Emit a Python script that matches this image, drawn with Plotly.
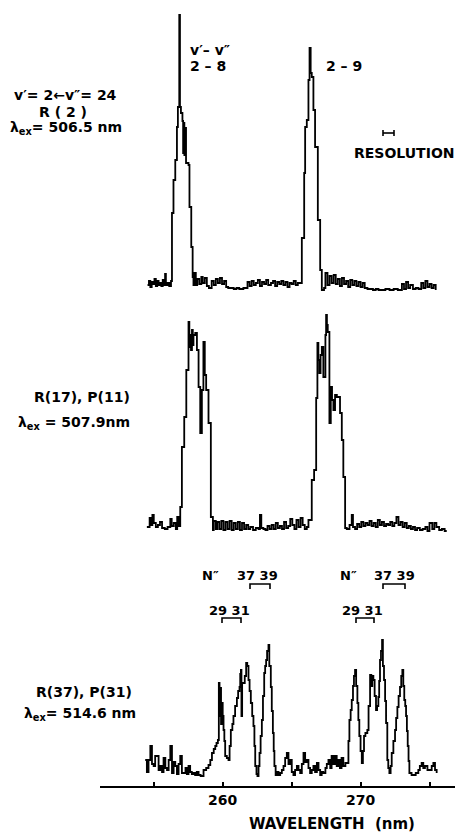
import plotly.graph_objects as go

# ---------------- data (wavelength nm, intensity arb.) ----------------
top_wl = [254.55, 254.65, 254.75, 254.85, 254.95, 255.05, 255.15, 255.25, 255.35, 255.45, 255.55, 255.65,
          255.75, 255.82, 255.88, 256.0, 256.12, 256.25, 256.32, 256.43, 256.56, 256.68, 256.75, 256.85,
          256.90, 256.97, 257.08, 257.13, 257.18, 257.22, 257.27, 257.34, 257.52, 257.59, 257.72, 257.82,
          257.88, 257.95, 258.05, 258.15, 258.3, 258.45, 258.55, 258.7, 258.85, 259.0, 259.2, 259.35,
          259.5, 259.65, 259.8, 259.95, 260.1, 260.25, 260.4, 260.6, 260.8, 261.0, 261.2, 261.5, 261.8,
          261.95, 262.1, 262.25, 262.4, 262.55, 262.7, 262.85, 263.0, 263.15, 263.3, 263.5, 263.65, 263.8,
          263.95, 264.1, 264.25, 264.4, 264.55, 264.7, 264.85, 265.0, 265.15, 265.3, 265.45, 265.74,
          265.91, 265.98, 266.10, 266.22, 266.30, 266.38, 266.46, 266.58, 266.70, 266.90, 267.07, 267.19,
          267.35, 267.45, 267.6, 267.75, 267.9, 268.05, 268.2, 268.35, 268.5, 268.65, 268.8, 268.95,
          269.1, 269.25, 269.4, 269.55, 269.7, 269.85, 270.0, 270.15, 270.3, 270.5, 270.7, 270.9, 271.1,
          271.3, 271.5, 271.8, 272.1, 272.4, 272.7, 273.0, 273.15, 273.3, 273.45, 273.6, 273.8, 274.0,
          274.2, 274.4, 274.55, 274.7, 274.85, 275.0, 275.15, 275.3, 275.45]
top_I = [8, 12, 6, 11, 9, 14, 7, 12, 8, 10, 7, 13,
         8, 19, 8, 10, 7, 12, 80, 113, 133, 166, 186, 278,
         186, 180, 172, 140, 170, 138, 165, 130, 128, 86, 46, 16,
         8, 20, 8, 14, 9, 16, 10, 15, 7, 5, 12, 8,
         14, 10, 15, 9, 12, 6, 5, 5, 4, 5, 4, 5, 11,
         7, 12, 8, 10, 13, 7, 11, 9, 13, 8, 10, 12, 7,
         11, 9, 12, 8, 11, 6, 10, 9, 12, 8, 10, 55,
         120, 166, 173, 213, 245, 220, 216, 183, 146, 73, 23, 3,
         5, 20, 8, 17, 10, 18, 9, 14, 7, 15, 9, 12,
         6, 13, 8, 12, 7, 11, 6, 10, 5, 4, 4, 3, 4,
         3, 3, 4, 3, 4, 3, 9, 4, 11, 5, 8, 4, 5,
         4, 10, 5, 12, 6, 9, 5, 8, 3]

mid_wl = [254.5, 254.7, 254.8, 254.9, 255.0, 255.15, 255.3, 255.45, 255.6, 255.8, 256.0, 256.2, 256.3,
          256.45, 256.6, 256.7, 256.8, 256.92, 257.04, 257.21, 257.36, 257.52, 257.58, 257.64, 257.70,
          257.77, 257.83, 257.88, 258.01, 258.13, 258.25, 258.37, 258.49, 258.60, 258.70, 258.80, 258.97,
          259.14, 259.29, 259.35, 259.5, 259.6, 259.75, 259.9, 260.05, 260.2, 260.35, 260.5, 260.65,
          260.8, 260.95, 261.1, 261.25, 261.4, 261.55, 261.7, 261.85, 262.0, 262.2, 262.4, 262.6, 262.7,
          262.8, 262.95, 263.1, 263.25, 263.4, 263.55, 263.7, 263.85, 264.0, 264.15, 264.3, 264.45, 264.6,
          264.75, 264.9, 265.05, 265.2, 265.35, 265.5, 265.65, 265.8, 265.95, 266.1, 266.22, 266.46,
          266.63, 266.78, 266.87, 266.94, 267.01, 267.10, 267.19, 267.30, 267.45, 267.50, 267.56, 267.62,
          267.74, 267.84, 267.93, 268.03, 268.15, 268.28, 268.51, 268.64, 268.75, 268.88, 269.0, 269.2,
          269.36, 269.45, 269.6, 269.75, 269.9, 270.05, 270.2, 270.35, 270.5, 270.65, 270.8, 270.95,
          271.1, 271.25, 271.4, 271.55, 271.7, 271.85, 272.0, 272.15, 272.3, 272.45, 272.6, 272.75,
          272.9, 273.05, 273.2, 273.35, 273.5, 273.65, 273.8, 273.95, 274.1, 274.3, 274.5, 274.7, 274.85,
          275.0, 275.2, 275.35, 275.5, 275.7, 275.9, 276.1, 276.25]
mid_I = [8, 17, 10, 20, 12, 8, 10, 13, 7, 6, 8, 16, 9,
         12, 6, 18, 9, 28, 88, 118, 165, 213, 188, 200, 185,
         205, 190, 200, 202, 185, 148, 102, 145, 193, 160, 145, 112,
         18, 5, 14, 6, 13, 6, 14, 5, 13, 6, 14, 5,
         12, 6, 13, 5, 12, 6, 10, 6, 8, 5, 7, 6, 20,
         7, 6, 5, 9, 6, 10, 6, 12, 7, 9, 6, 13, 7,
         9, 16, 10, 6, 15, 8, 17, 10, 6, 8, 15, 55,
         65, 137, 192, 175, 162, 180, 188, 158, 200, 220, 210, 203,
         112, 148, 135, 125, 140, 138, 122, 95, 58, 7, 6, 10,
         20, 8, 6, 11, 8, 13, 9, 12, 10, 14, 9, 12,
         8, 15, 10, 13, 9, 11, 10, 13, 9, 12, 18, 10,
         13, 8, 12, 7, 9, 6, 8, 5, 7, 5, 6, 8, 4,
         12, 6, 12, 8, 5, 6, 4, 4]

bot_wl = [254.38, 254.5, 254.62, 254.75, 254.87, 254.99, 255.1, 255.23, 255.35, 255.47, 255.6, 255.71,
          255.84, 255.96, 256.08, 256.2, 256.32, 256.44, 256.56, 256.68, 256.8, 256.92, 257.04, 257.16,
          257.3, 257.4, 257.52, 257.64, 257.76, 257.88, 258.0, 258.12, 258.25, 258.4, 258.61, 258.8,
          258.97, 259.1, 259.22, 259.35, 259.46, 259.55, 259.65, 259.72, 259.77, 259.82, 259.88, 259.94,
          260.0, 260.06, 260.12, 260.18, 260.3, 260.42, 260.5, 260.59, 260.7, 260.78, 260.9, 261.03,
          261.12, 261.22, 261.27, 261.32, 261.36, 261.41, 261.51, 261.6, 261.70, 261.78, 261.87, 261.95,
          262.04, 262.14, 262.23, 262.30, 262.36, 262.45, 262.52, 262.60, 262.67, 262.75, 262.84, 262.92,
          263.01, 263.08, 263.15, 263.22, 263.32, 263.38, 263.49, 263.56, 263.64, 263.70, 263.75, 263.84,
          263.93, 264.05, 264.17, 264.29, 264.41, 264.53, 264.65, 264.77, 264.89, 265.01, 265.13, 265.25,
          265.38, 265.5, 265.62, 265.74, 265.86, 265.98, 266.10, 266.22, 266.34, 266.46, 266.58, 266.70,
          266.83, 266.95, 267.07, 267.18, 267.30, 267.45, 267.55, 267.67, 267.8, 267.9, 268.03, 268.15,
          268.27, 268.39, 268.5, 268.62, 268.75, 268.9, 269.04, 269.12, 269.19, 269.28, 269.36, 269.45,
          269.52, 269.60, 269.68, 269.77, 269.84, 269.91, 270.0, 270.09, 270.17, 270.25, 270.35, 270.49,
          270.58, 270.69, 270.78, 270.85, 270.93, 271.02, 271.12, 271.2, 271.29, 271.35, 271.41, 271.48,
          271.56, 271.62, 271.70, 271.78, 271.85, 271.94, 272.01, 272.09, 272.18, 272.26, 272.38, 272.50,
          272.58, 272.67, 272.76, 272.86, 272.95, 273.03, 273.10, 273.17, 273.24, 273.30, 273.36, 273.42,
          273.48, 273.54, 273.7, 273.83, 274.0, 274.19, 274.3, 274.43, 274.55, 274.67, 274.85, 275.04,
          275.16, 275.28, 275.4, 275.52]
bot_I = [26, 14, 26, 40, 22, 20, 30, 30, 16, 20, 14, 28,
         18, 16, 26, 40, 13, 24, 20, 12, 22, 30, 13, 13,
         18, 12, 20, 14, 12, 13, 11, 14, 11, 10, 16, 18,
         21, 26, 33, 37, 40, 43, 46, 103, 70, 98, 62, 83,
         70, 56, 45, 30, 28, 26, 40, 56, 62, 70, 80, 88,
         95, 99, 112, 116, 70, 103, 103, 110, 123, 120, 106, 95,
         83, 70, 60, 40, 20, 12, 10, 20, 33, 50, 66, 90,
         113, 120, 126, 135, 141, 120, 99, 75, 53, 35, 20, 11,
         14, 11, 13, 16, 20, 28, 33, 22, 26, 14, 11, 16,
         20, 16, 13, 22, 33, 24, 26, 18, 13, 16, 20, 14,
         23, 16, 11, 14, 13, 18, 22, 26, 18, 30, 22, 30,
         20, 26, 18, 28, 20, 23, 23, 45, 66, 76, 86, 100,
         110, 116, 100, 83, 66, 50, 35, 23, 35, 50, 53, 56,
         80, 111, 100, 110, 106, 90, 76, 80, 89, 105, 126, 135,
         146, 120, 106, 85, 63, 26, 18, 13, 20, 33, 45, 56,
         68, 79, 90, 99, 110, 116, 100, 86, 80, 70, 55, 40,
         25, 13, 11, 11, 13, 16, 20, 23, 18, 20, 16, 16,
         20, 23, 16, 13]

major_ticks = [260, 270]
major_labels = ["260", "270"]

# ---------------- layout geometry ----------------
W, H = 459, 833
ML, MR, MT, MB = 100, 4, 0, 47
PW, PH = W - ML - MR, H - MT - MB


def px(x):
    return (x - ML) / PW


def py(y):
    return (H - MB - y) / PH


FONT = "DejaVu Sans"
line = dict(color="black", width=1.8, shape="hv")

fig = go.Figure()
fig.add_trace(go.Scatter(x=top_wl, y=top_I, mode="lines", line=line, xaxis="x", yaxis="y"))
fig.add_trace(go.Scatter(x=mid_wl, y=mid_I, mode="lines", line=line, xaxis="x", yaxis="y2"))
fig.add_trace(go.Scatter(x=bot_wl, y=bot_I, mode="lines", line=line, xaxis="x", yaxis="y3"))

hidden = dict(visible=False, fixedrange=True)
fig.update_layout(
    width=W, height=H,
    margin=dict(l=ML, r=MR, t=MT, b=MB),
    paper_bgcolor="white", plot_bgcolor="white",
    showlegend=False,
    font=dict(family=FONT, color="black"),
    xaxis=dict(domain=[0, 1], anchor="y3", range=[251.1, 276.85],
               tickvals=major_ticks, ticktext=major_labels,
               ticks="inside", ticklen=4, tickwidth=1.5, tickcolor="black",
               minor=dict(tick0=255, dtick=5, ticks="inside", ticklen=4, tickwidth=1.5,
                          tickcolor="black", showgrid=False),
               showline=True, linecolor="black", linewidth=1.8,
               showgrid=False, zeroline=False,
               tickfont=dict(family=FONT, size=14, color="black", weight="bold")),
    yaxis=dict(domain=[py(293), py(0)], range=[0, 293], anchor="x", **hidden),
    yaxis2=dict(domain=[py(535), py(300)], range=[0, 235], anchor="x", **hidden),
    yaxis3=dict(domain=[py(786), py(620)], range=[0, 166], anchor="x", **hidden),
)


def txt(s, x, y, size=14, xanchor="center"):
    fig.add_annotation(text="<b>" + s + "</b>", x=px(x), y=py(y), xref="paper", yref="paper",
                       xanchor=xanchor, yanchor="middle", showarrow=False,
                       font=dict(family=FONT, size=size, color="black"))


txt("v′= 2←v″= 24", 65, 95)
txt("R ( 2 )", 63, 112)
txt("λ<sub>ex</sub>= 506.5 nm", 66, 128)
txt("v′– v″", 188, 50, xanchor="left")
txt("2 – 8", 188, 66, xanchor="left")
txt("2 – 9", 324, 66, xanchor="left")
txt("RESOLUTION", 404, 153, size=14)
txt("R(17), P(11)", 82, 397)
txt("λ<sub>ex</sub> = 507.9nm", 74, 423)
txt("N″", 210, 575, size=13)
txt("37 39", 257, 575, size=13)
txt("29 31", 229, 610, size=13)
txt("N″", 348, 575, size=13)
txt("37 39", 394, 575, size=13)
txt("29 31", 362, 610, size=13)
txt("R(37), P(31)", 84, 692)
txt("λ<sub>ex</sub>= 514.6 nm", 80, 714)
txt("WAVELENGTH  (nm)", 332, 824, size=15)

shape_line = dict(color="black", width=1.6)


def bracket(x0, x1, y, drop=5):
    path = "M {a},{b} L {a},{c} L {d},{c} L {d},{b}".format(
        a=px(x0), b=py(y + drop), c=py(y), d=px(x1))
    fig.add_shape(type="path", path=path, xref="paper", yref="paper", line=shape_line)


bracket(250, 270, 584)
bracket(222, 241, 618)
bracket(383, 405, 584)
bracket(356, 374, 618)

# resolution marker
fig.add_shape(type="line", x0=px(383), x1=px(394), y0=py(133), y1=py(133),
              xref="paper", yref="paper", line=shape_line)
fig.add_shape(type="line", x0=px(383), x1=px(383), y0=py(130), y1=py(136),
              xref="paper", yref="paper", line=shape_line)
fig.add_shape(type="line", x0=px(394), x1=px(394), y0=py(130), y1=py(136),
              xref="paper", yref="paper", line=shape_line)

fig.write_html("out.html")
